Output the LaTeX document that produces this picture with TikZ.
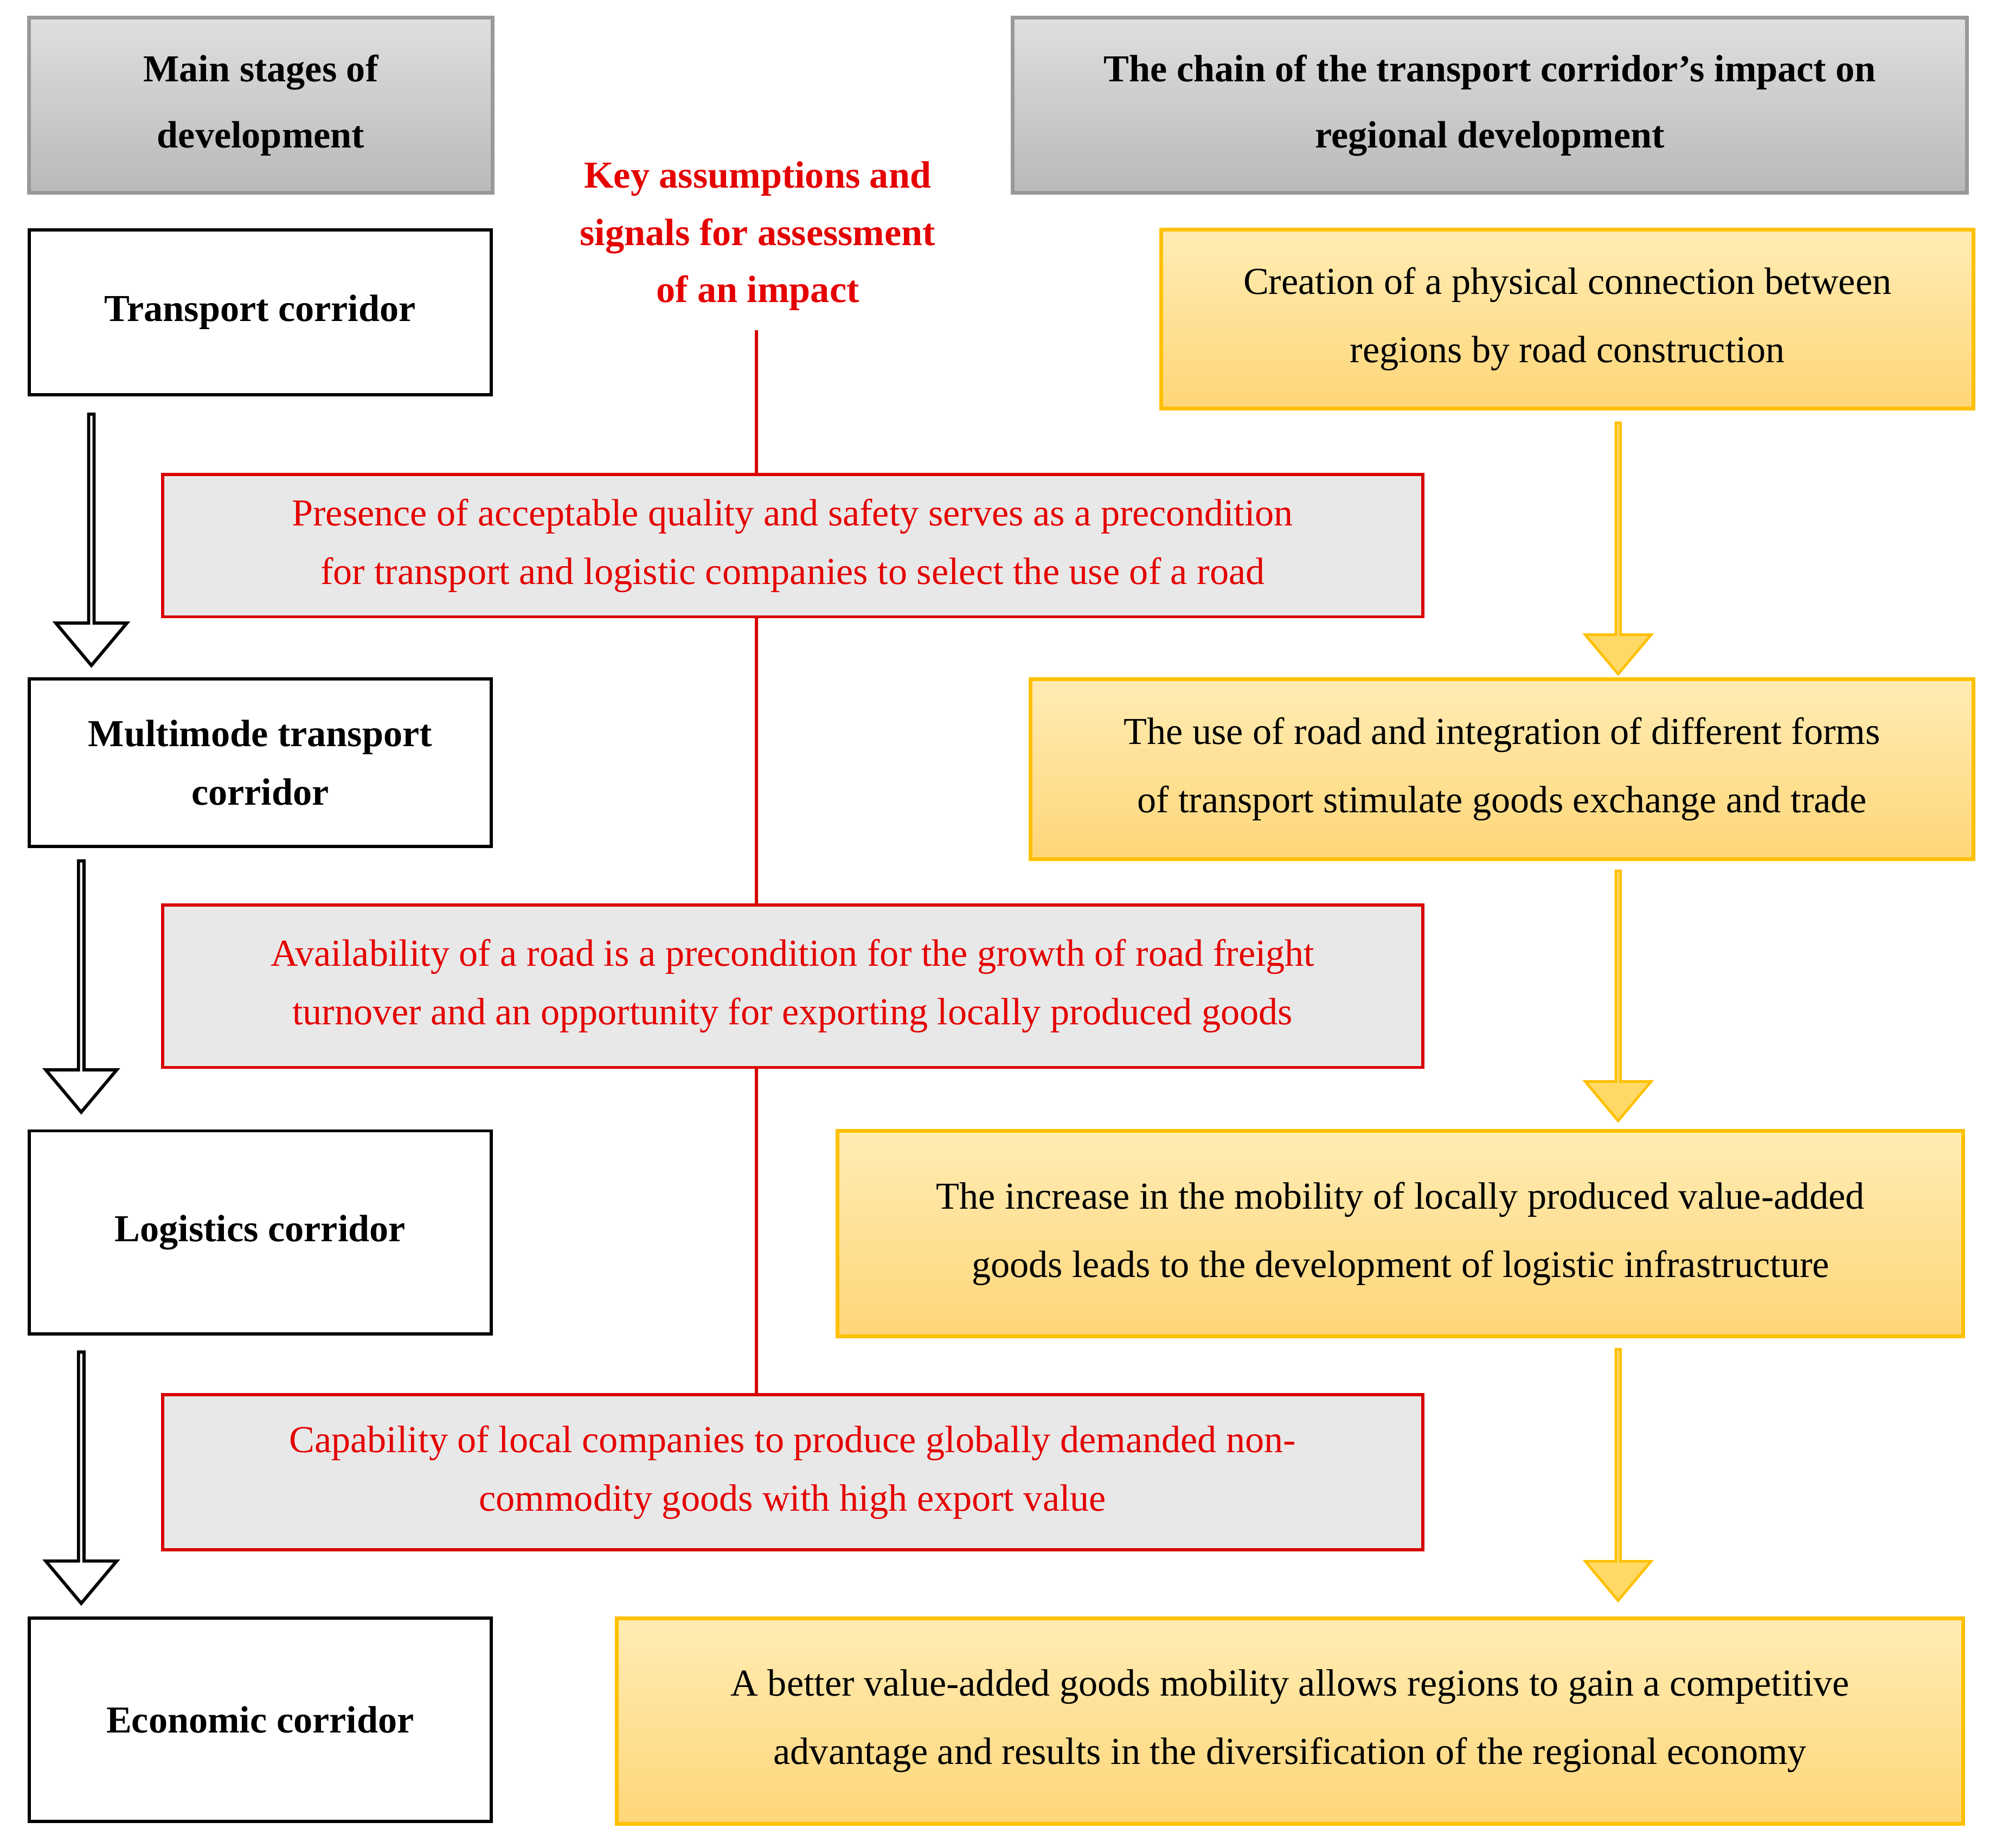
\documentclass[tikz,border=0pt]{standalone}
\usepackage{fontspec}
\setmainfont{Liberation Serif}
\usetikzlibrary{shapes.arrows}
\begin{document}
\begin{tikzpicture}[x=1pt,y=-1pt,
 hdr/.style={draw=gray!80,line width=3pt,fill=gray!50,top color=gray!25,bottom color=gray!55,font=\fontsize{30}{52}\selectfont\bfseries,align=center,inner sep=0},
 stage/.style={draw=black,line width=2.5pt,fill=white,font=\fontsize{30}{46}\selectfont\bfseries,align=center,inner sep=0},
 cond/.style={draw=red!85!black,line width=2.5pt,fill=gray!18,text=red!90!black,font=\fontsize{30}{46}\selectfont,align=center,inner sep=0},
 chain/.style={draw=orange!30!yellow!90!red,draw={rgb,255:red,255;green,192;blue,0},line width=3pt,top color={rgb,255:red,255;green,236;blue,180},bottom color={rgb,255:red,255;green,214;blue,120},font=\fontsize{30}{54}\selectfont,align=center,inner sep=0},
 harrow/.style={single arrow,draw=black,line width=2.5pt,fill=white,shape border rotate=270,minimum width=56pt,single arrow head extend=15pt,single arrow tip angle=80,inner sep=0},
 oarrow/.style={single arrow,draw={rgb,255:red,255;green,192;blue,0},line width=2pt,fill={rgb,255:red,255;green,217;blue,102},shape border rotate=270,minimum width=52pt,single arrow head extend=13pt,single arrow tip angle=80,inner sep=0}]
\useasboundingbox (0,0) rectangle (1568,1456);
\node[hdr,minimum width=365,minimum height=138] (h1) at (205.5,83) {Main stages of\\development};
\node[hdr,minimum width=752,minimum height=138] (h2) at (1174,83) {The chain of the transport corridor’s impact on\\regional development};
\node[text=red!90!black,font=\fontsize{30}{45}\selectfont\bfseries,align=center] (key) at (597,186) {Key assumptions and\\signals for assessment\\of an impact};
\coordinate (ltop) at (596,260);
\coordinate (lbot) at (596,1098);
\draw[red!85!black,line width=2.5pt] (ltop) -- (lbot);
\node[stage,minimum width=364,minimum height=130] (s1) at (205,246) {Transport corridor};
\node[stage,minimum width=364,minimum height=132] (s2) at (205,601) {Multimode transport\\corridor};
\node[stage,minimum width=364,minimum height=160] (s3) at (205,971) {Logistics corridor};
\node[stage,minimum width=364,minimum height=160] (s4) at (205,1355) {Economic corridor};
\node[harrow,minimum height=198] (a1) at (72,424) {};
\node[harrow,minimum height=198] (a2) at (64,776) {};
\node[harrow,minimum height=198] (a3) at (64,1163) {};
\node[cond,minimum width=993,minimum height=112] (c1) at (624.5,430) {Presence of acceptable quality and safety serves as a precondition\\for transport and logistic companies to select the use of a road};
\node[cond,minimum width=993,minimum height=128] (c2) at (624.5,777) {Availability of a road is a precondition for the growth of road freight\\turnover and an opportunity for exporting locally produced goods};
\node[cond,minimum width=993,minimum height=122] (c3) at (624.5,1160) {Capability of local companies to produce globally demanded non-\\commodity goods with high export value};
\node[chain,minimum width=640,minimum height=141] (o1) at (1235,251.5) {Creation of a physical connection between\\regions by road construction};
\node[chain,minimum width=743,minimum height=142] (o2) at (1183.5,606) {The use of road and integration of different forms\\of transport stimulate goods exchange and trade};
\node[chain,minimum width=887,minimum height=162] (o3) at (1103.5,972) {The increase in the mobility of locally produced value-added\\goods leads to the development of logistic infrastructure};
\node[chain,minimum width=1061,minimum height=162] (o4) at (1016.5,1356) {A better value-added goods mobility allows regions to gain a competitive\\advantage and results in the diversification of the regional economy};
\node[oarrow,minimum height=198] (b1) at (1275,431) {};
\node[oarrow,minimum height=197] (b2) at (1275,783.5) {};
\node[oarrow,minimum height=198] (b3) at (1275,1161) {};
\end{tikzpicture}
\end{document}
